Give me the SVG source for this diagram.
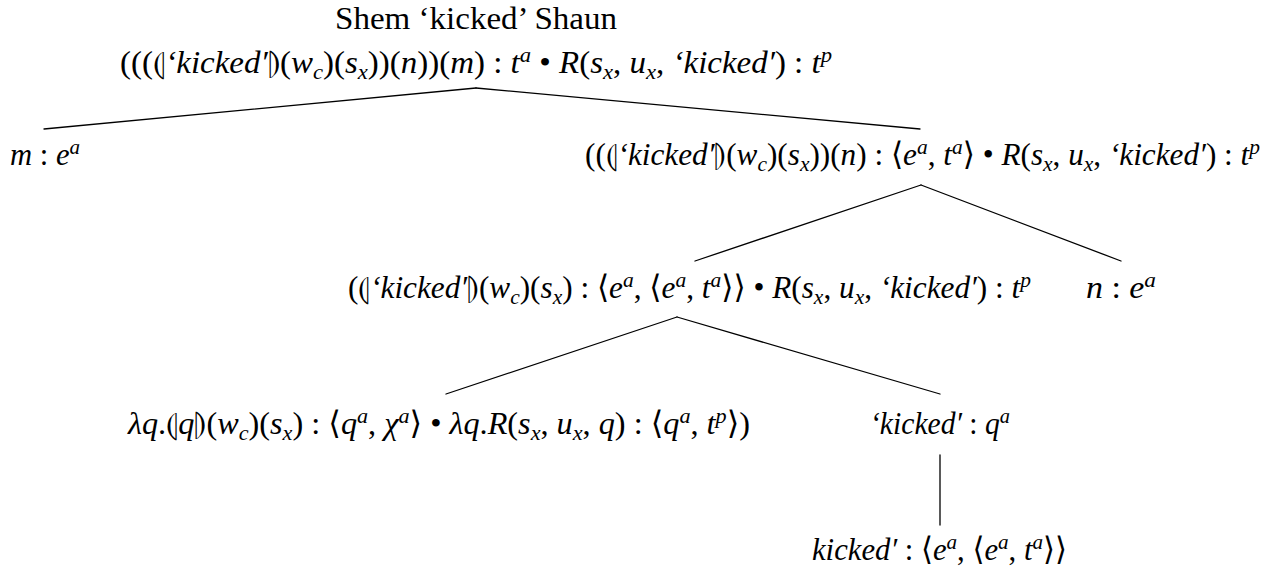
<svg xmlns="http://www.w3.org/2000/svg" width="1280" height="575" viewBox="0 0 1280 575">
<style>
.t{font-family:"Liberation Serif","DejaVu Serif","DejaVu Sans",serif;font-size:32px;fill:#000}
.i{font-style:italic}
.sb{font-size:22px;font-style:italic}
.e{stroke:#000;stroke-width:1.3;fill:none;stroke-linecap:round}
</style>
<rect width="1280" height="575" fill="#fff"/>
<g id="connectors">
<line class="e" x1="476" y1="88" x2="44" y2="129"/>
<line class="e" x1="476" y1="88" x2="920" y2="129"/>
<line class="e" x1="921" y1="185" x2="695" y2="261"/>
<line class="e" x1="921" y1="185" x2="1121" y2="261"/>
<line class="e" x1="677" y1="317" x2="446" y2="394"/>
<line class="e" x1="677" y1="317" x2="940" y2="394"/>
<line class="e" x1="940" y1="455" x2="940" y2="525"/>
</g>
<g id="root">
<text class="t" x="335" y="29" textLength="282" lengthAdjust="spacingAndGlyphs">Shem ‘kicked’ Shaun</text>
<text class="t" x="120" y="73" textLength="712" lengthAdjust="spacingAndGlyphs">(((⦇<tspan class="i">‘kicked′</tspan>⦈(<tspan class="i">w</tspan><tspan class="sb" baseline-shift="-6">c</tspan>)(<tspan class="i">s</tspan><tspan class="sb" baseline-shift="-6">x</tspan>))(<tspan class="i">n</tspan>))(<tspan class="i">m</tspan>) : <tspan class="i">t</tspan><tspan class="sb" baseline-shift="11">a</tspan> • <tspan class="i">R</tspan>(<tspan class="i">s</tspan><tspan class="sb" baseline-shift="-6">x</tspan>, <tspan class="i">u</tspan><tspan class="sb" baseline-shift="-6">x</tspan>, <tspan class="i">‘kicked′</tspan>) : <tspan class="i">t</tspan><tspan class="sb" baseline-shift="11">p</tspan></text>
</g>
<g id="node-m">
<text class="t" x="10" y="165" textLength="70" lengthAdjust="spacingAndGlyphs"><tspan class="i">m</tspan> : <tspan class="i">e</tspan><tspan class="sb" baseline-shift="11">a</tspan></text>
</g>
<g id="node-2">
<text class="t" x="585" y="165" textLength="675" lengthAdjust="spacingAndGlyphs">((⦇<tspan class="i">‘kicked′</tspan>⦈(<tspan class="i">w</tspan><tspan class="sb" baseline-shift="-6">c</tspan>)(<tspan class="i">s</tspan><tspan class="sb" baseline-shift="-6">x</tspan>))(<tspan class="i">n</tspan>) : ⟨<tspan class="i">e</tspan><tspan class="sb" baseline-shift="11">a</tspan>, <tspan class="i">t</tspan><tspan class="sb" baseline-shift="11">a</tspan>⟩ • <tspan class="i">R</tspan>(<tspan class="i">s</tspan><tspan class="sb" baseline-shift="-6">x</tspan>, <tspan class="i">u</tspan><tspan class="sb" baseline-shift="-6">x</tspan>, <tspan class="i">‘kicked′</tspan>) : <tspan class="i">t</tspan><tspan class="sb" baseline-shift="11">p</tspan></text>
</g>
<g id="node-3">
<text class="t" x="348" y="298" textLength="683" lengthAdjust="spacingAndGlyphs">(⦇<tspan class="i">‘kicked′</tspan>⦈(<tspan class="i">w</tspan><tspan class="sb" baseline-shift="-6">c</tspan>)(<tspan class="i">s</tspan><tspan class="sb" baseline-shift="-6">x</tspan>) : ⟨<tspan class="i">e</tspan><tspan class="sb" baseline-shift="11">a</tspan>, ⟨<tspan class="i">e</tspan><tspan class="sb" baseline-shift="11">a</tspan>, <tspan class="i">t</tspan><tspan class="sb" baseline-shift="11">a</tspan>⟩⟩ • <tspan class="i">R</tspan>(<tspan class="i">s</tspan><tspan class="sb" baseline-shift="-6">x</tspan>, <tspan class="i">u</tspan><tspan class="sb" baseline-shift="-6">x</tspan>, <tspan class="i">‘kicked′</tspan>) : <tspan class="i">t</tspan><tspan class="sb" baseline-shift="11">p</tspan></text>
</g>
<g id="node-n">
<text class="t" x="1086" y="298" textLength="70" lengthAdjust="spacingAndGlyphs"><tspan class="i">n</tspan> : <tspan class="i">e</tspan><tspan class="sb" baseline-shift="11">a</tspan></text>
</g>
<g id="node-4">
<text class="t" x="128" y="434" textLength="622" lengthAdjust="spacingAndGlyphs"><tspan class="i">λq</tspan>.⦇<tspan class="i">q</tspan>⦈(<tspan class="i">w</tspan><tspan class="sb" baseline-shift="-6">c</tspan>)(<tspan class="i">s</tspan><tspan class="sb" baseline-shift="-6">x</tspan>) : ⟨<tspan class="i">q</tspan><tspan class="sb" baseline-shift="11">a</tspan>, <tspan class="i">χ</tspan><tspan class="sb" baseline-shift="11">a</tspan>⟩ • <tspan class="i">λq</tspan>.<tspan class="i">R</tspan>(<tspan class="i">s</tspan><tspan class="sb" baseline-shift="-6">x</tspan>, <tspan class="i">u</tspan><tspan class="sb" baseline-shift="-6">x</tspan>, <tspan class="i">q</tspan>) : ⟨<tspan class="i">q</tspan><tspan class="sb" baseline-shift="11">a</tspan>, <tspan class="i">t</tspan><tspan class="sb" baseline-shift="11">p</tspan>⟩)</text>
</g>
<g id="node-kq">
<text class="t" x="870" y="434" textLength="140" lengthAdjust="spacingAndGlyphs"><tspan class="i">‘kicked′</tspan> : <tspan class="i">q</tspan><tspan class="sb" baseline-shift="11">a</tspan></text>
</g>
<g id="node-leaf">
<text class="t" x="812" y="560" textLength="255" lengthAdjust="spacingAndGlyphs"><tspan class="i">kicked′</tspan> : ⟨<tspan class="i">e</tspan><tspan class="sb" baseline-shift="11">a</tspan>, ⟨<tspan class="i">e</tspan><tspan class="sb" baseline-shift="11">a</tspan>, <tspan class="i">t</tspan><tspan class="sb" baseline-shift="11">a</tspan>⟩⟩</text>
</g>
</svg>
